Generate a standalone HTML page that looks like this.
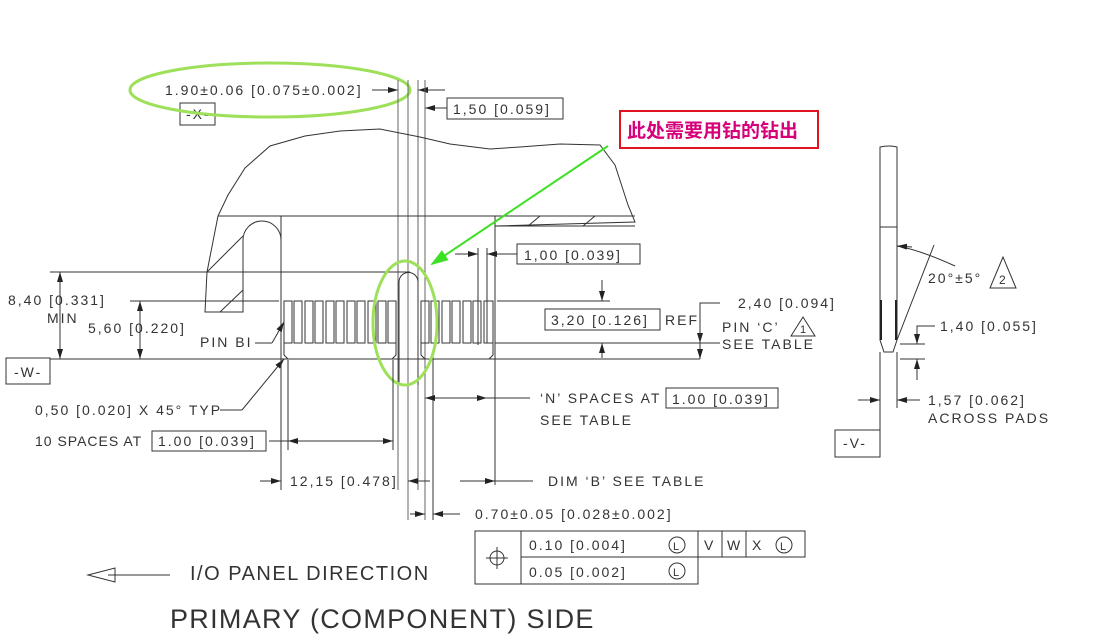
<!DOCTYPE html>
<html><head><meta charset="utf-8"><style>
html,body{margin:0;padding:0;background:#fff}
svg{display:block}
text{font-family:"Liberation Sans","Noto Sans CJK SC",sans-serif;fill:#333;font-size:14px;letter-spacing:2px}
.l{stroke:#333;stroke-width:1;fill:none}
.g{stroke:#666;stroke-width:1;fill:none}
</style></head><body>
<svg width="1106" height="634" viewBox="0 0 1106 634" xmlns="http://www.w3.org/2000/svg">
<defs>
<marker id="a" markerWidth="10" markerHeight="6" refX="10" refY="3" orient="auto" markerUnits="userSpaceOnUse"><path d="M0,0 L10,3 L0,6z" fill="#222"/></marker>
<marker id="ga" markerWidth="18" markerHeight="12" refX="16" refY="6" orient="auto" markerUnits="userSpaceOnUse"><path d="M0,0 L18,6 L0,12z" fill="#3ee024"/></marker>
</defs>

<!-- top dims -->
<text x="165" y="95">1.90±0.06 [0.075±0.002]</text>
<line class="l" x1="372" y1="90" x2="398" y2="90" marker-end="url(#a)"/>
<line class="l" x1="445" y1="90" x2="418" y2="90" marker-end="url(#a)"/>
<rect class="l" x="180" y="103" width="35" height="22"/>
<text x="186" y="119">-X-</text>
<rect class="l" x="447" y="98" width="116" height="21"/>
<text x="453" y="114">1,50 [0.059]</text>
<line class="l" x1="447" y1="108" x2="425" y2="108" marker-end="url(#a)"/>
<ellipse cx="270" cy="90" rx="140" ry="27" fill="none" stroke="#9ee05a" stroke-width="3"/>

<!-- vertical construction lines -->
<line class="g" x1="398" y1="80" x2="398" y2="490"/>
<line class="g" x1="408" y1="80" x2="408" y2="520"/>
<line class="g" x1="418" y1="80" x2="418" y2="490"/>
<line class="g" x1="425" y1="80" x2="425" y2="520"/>
<line class="l" x1="433" y1="355" x2="433" y2="520"/>

<!-- body outline -->
<path class="l" d="M218,216 L228,195 L245,168 L270,146 L305,136 L340,131 L380,129 L420,137 L450,144 L490,149 L520,147 L560,144 L600,145 L615,165 L628,205 L635,222 L495,226"/>
<line class="l" x1="218" y1="216" x2="635" y2="216"/>
<line class="l" x1="495" y1="226" x2="635" y2="226"/>
<line class="l" x1="528" y1="226" x2="540" y2="216"/><line class="l" x1="583" y1="226" x2="595" y2="216"/>
<path class="l" d="M218,216 L207,272 L205,312 L243,312 L243,272 L207,272"/>
<line class="l" x1="207" y1="272" x2="243" y2="236"/>
<line class="l" x1="220" y1="312" x2="243" y2="290"/>
<path class="l" d="M243,272 L243,240 A19,19 0 0 1 281,240 L281,272"/>
<line class="l" x1="281" y1="216" x2="281" y2="360"/>
<line class="l" x1="495" y1="216" x2="495" y2="485"/>

<!-- horizontal refs -->
<line class="l" x1="50" y1="272" x2="410" y2="272"/>
<line class="l" x1="130" y1="301" x2="279" y2="301"/>
<line class="l" x1="50" y1="359" x2="700" y2="359"/>
<line class="l" x1="495" y1="343" x2="720" y2="343"/>
<line class="l" x1="497" y1="301" x2="610" y2="301"/>

<!-- pins -->
<g class="l">
<rect x="284" y="301" width="8" height="42"/><rect x="294" y="301" width="8" height="42"/><rect x="305" y="301" width="8" height="42"/><rect x="315" y="301" width="8" height="42"/><rect x="326" y="301" width="8" height="42"/><rect x="336" y="301" width="8" height="42"/><rect x="347" y="301" width="8" height="42"/><rect x="357" y="301" width="8" height="42"/><rect x="368" y="301" width="8" height="42"/><rect x="378" y="301" width="8" height="42"/><rect x="388" y="301" width="8" height="42"/>
<rect x="421" y="301" width="8" height="42"/><rect x="431" y="301" width="8" height="42"/><rect x="442" y="301" width="8" height="42"/><rect x="452" y="301" width="8" height="42"/><rect x="463" y="301" width="8" height="42"/><rect x="473" y="301" width="8" height="42"/><rect x="484" y="301" width="9" height="42"/>
</g>
<path class="l" d="M284,343 L284,355 L288,359 M396,343 L396,355 L392,359 M421,343 L421,355 L425,359 M493,343 L493,355 L489,359"/>
<path class="l" d="M399,385 L399,282 A9.5,9.5 0 0 1 418,282 L418,385"/>
<ellipse cx="405" cy="323" rx="32" ry="62" fill="none" stroke="#9ee05a" stroke-width="3"/>

<!-- green callout -->
<line x1="608" y1="146" x2="432" y2="264" stroke="#3ee024" stroke-width="2" marker-end="url(#ga)"/>
<rect x="620" y="111" width="198" height="37" fill="#fff" stroke="#e0141e" stroke-width="2"/>
<text x="627" y="137" style="fill:#d6007a;font-size:19px;font-weight:bold;letter-spacing:0">此处需要用钻的钻出</text>

<!-- left dims -->
<line class="l" x1="60" y1="280" x2="60" y2="272" marker-end="url(#a)"/><line class="l" x1="60" y1="280" x2="60" y2="359" marker-end="url(#a)"/>
<text x="8" y="305">8,40 [0.331]</text><text x="47" y="323">MIN</text>
<line class="l" x1="140" y1="310" x2="140" y2="301" marker-end="url(#a)"/><line class="l" x1="140" y1="310" x2="140" y2="359" marker-end="url(#a)"/>
<text x="88" y="333">5,60 [0.220]</text>
<text x="200" y="347">PIN BI</text>
<path class="l" d="M255,343 L272,343" /><line class="l" x1="272" y1="343" x2="284" y2="322" marker-end="url(#a)"/>
<rect class="l" x="6" y="358" width="44" height="26"/><text x="14" y="377">-W-</text>
<text x="35" y="415">0,50 [0.020] X 45° TYP</text>
<line class="l" x1="220" y1="410" x2="242" y2="410"/><line class="l" x1="242" y1="410" x2="284" y2="359" marker-end="url(#a)"/>
<text x="35" y="446" style="letter-spacing:1px">10 SPACES AT</text>
<rect class="l" x="152" y="431" width="114" height="20"/><text x="158" y="446">1.00 [0.039]</text>
<line class="l" x1="288" y1="360" x2="288" y2="450"/><line class="l" x1="393" y1="360" x2="393" y2="450"/>
<line class="l" x1="340" y1="441" x2="288" y2="441" marker-end="url(#a)"/><line class="l" x1="340" y1="441" x2="393" y2="441" marker-end="url(#a)"/>
<line class="l" x1="269" y1="441" x2="288" y2="441"/>
<line class="l" x1="281" y1="360" x2="281" y2="490"/>
<line class="l" x1="260" y1="481" x2="281" y2="481" marker-end="url(#a)"/>
<text x="290" y="486">12,15 [0.478]</text>
<line class="l" x1="430" y1="481" x2="408" y2="481" marker-end="url(#a)"/><line class="l" x1="460" y1="481" x2="495" y2="481" marker-end="url(#a)"/>
<line class="l" x1="495" y1="481" x2="533" y2="481"/>
<text x="548" y="486">DIM ‘B’ SEE TABLE</text>
<line class="l" x1="410" y1="514" x2="425" y2="514" marker-end="url(#a)"/><line class="l" x1="460" y1="514" x2="433" y2="514" marker-end="url(#a)"/>
<text x="475" y="519">0.70±0.05 [0.028±0.002]</text>
<line class="l" x1="480" y1="398" x2="425" y2="398" marker-end="url(#a)"/><line class="l" x1="480" y1="398" x2="487" y2="398" marker-end="url(#a)"/>
<line class="l" x1="480" y1="398" x2="530" y2="398"/>
<text x="540" y="403">‘N’ SPACES AT</text><text x="540" y="425">SEE TABLE</text>
<rect class="l" x="666" y="388" width="112" height="20"/><text x="672" y="404">1.00 [0.039]</text>

<!-- right dims -->
<line class="l" x1="455" y1="254" x2="478" y2="254" marker-end="url(#a)"/><line class="l" x1="517" y1="254" x2="487" y2="254" marker-end="url(#a)"/>
<line class="l" x1="478" y1="248" x2="478" y2="345"/><line class="l" x1="487" y1="248" x2="487" y2="343"/>
<rect class="l" x="517" y="244" width="123" height="20"/><text x="524" y="260">1,00 [0.039]</text>
<line class="l" x1="602" y1="280" x2="602" y2="301" marker-end="url(#a)"/><line class="l" x1="602" y1="358" x2="602" y2="343" marker-end="url(#a)"/>
<rect class="l" x="545" y="309" width="115" height="21"/><text x="551" y="325">3,20 [0.126]</text><text x="665" y="325">REF</text>
<path class="l" d="M720,303 L700,303 L700,359"/>
<line class="l" x1="700" y1="330" x2="700" y2="343" marker-end="url(#a)"/><line class="l" x1="700" y1="330" x2="700" y2="359" marker-end="url(#a)"/>
<text x="738" y="308">2,40 [0.094]</text>
<text x="722" y="332">PIN ‘C’</text><text x="722" y="349">SEE TABLE</text>
<path class="l" d="M803,317 L791,336 L815,336Z"/><text x="800" y="333" style="font-size:11px;letter-spacing:0">1</text>

<!-- FCF -->
<g class="l">
<rect x="475" y="531" width="46" height="53"/>
<rect x="521" y="531" width="284" height="26"/>
<rect x="521" y="557" width="177" height="27"/>
<line x1="698" y1="531" x2="698" y2="557"/><line x1="722" y1="531" x2="722" y2="557"/><line x1="746" y1="531" x2="746" y2="557"/>
<circle cx="497" cy="558" r="7"/><line x1="486" y1="558" x2="508" y2="558"/><line x1="497" y1="547" x2="497" y2="569"/>
<circle cx="677" cy="545" r="8"/><circle cx="677" cy="571" r="8"/><circle cx="784" cy="545" r="8"/>
</g>
<text x="529" y="550">0.10 [0.004]</text><text x="529" y="577">0.05 [0.002]</text>
<text x="673" y="550" style="font-size:11px">L</text><text x="673" y="576" style="font-size:11px">L</text><text x="780" y="550" style="font-size:11px">L</text>
<text x="704" y="550">V</text><text x="727" y="550">W</text><text x="752" y="550">X</text>

<!-- bottom -->
<line class="l" x1="170" y1="575" x2="108" y2="575"/>
<path class="l" d="M88,575 L115,568 L115,582Z"/>
<text x="190" y="580" style="font-size:20px;letter-spacing:1.5px">I/O PANEL DIRECTION</text>
<text x="170" y="628" style="font-size:27px;letter-spacing:1.3px">PRIMARY (COMPONENT) SIDE</text>

<!-- side view -->
<path class="l" d="M880,147 Q889,145 897,147 L897,340 L893,352 L884,352 L880,340 Z"/>
<line class="l" x1="880" y1="227" x2="897" y2="227"/>
<line x1="881" y1="300" x2="881" y2="340" stroke="#222" stroke-width="2"/><line x1="896" y1="300" x2="896" y2="340" stroke="#222" stroke-width="2"/>
<line class="l" x1="880" y1="352" x2="880" y2="455"/><line class="l" x1="897" y1="352" x2="897" y2="408"/>
<line class="l" x1="897" y1="340" x2="934" y2="245"/>
<path class="l" d="M897,246 Q920,250 955,266"/>
<line class="l" x1="912" y1="247" x2="897" y2="246" marker-end="url(#a)"/>
<text x="928" y="283">20°±5°</text>
<path class="l" d="M1003,257 L990,288 L1016,288Z"/><text x="999" y="284" style="font-size:12px;letter-spacing:0">2</text>
<rect class="l" x="835" y="430" width="45" height="27"/><text x="843" y="448">-V-</text>
<line class="l" x1="900" y1="344" x2="925" y2="344"/><line class="l" x1="900" y1="359" x2="925" y2="359"/>
<path class="l" d="M935,326 L917,326 L917,344"/>
<line class="l" x1="917" y1="330" x2="917" y2="344" marker-end="url(#a)"/><line class="l" x1="917" y1="380" x2="917" y2="359" marker-end="url(#a)"/>
<text x="940" y="331">1,40 [0.055]</text>
<line class="l" x1="858" y1="400" x2="880" y2="400" marker-end="url(#a)"/><line class="l" x1="920" y1="400" x2="897" y2="400" marker-end="url(#a)"/>
<text x="928" y="405">1,57 [0.062]</text><text x="928" y="423">ACROSS PADS</text>
</svg>
</body></html>
